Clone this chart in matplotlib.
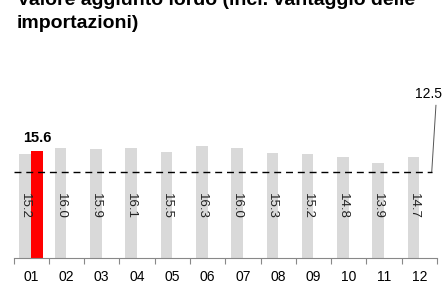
import matplotlib
matplotlib.use("Agg")
import matplotlib.pyplot as plt
import numpy as np

plt.rcParams['font.family'] = ['Liberation Sans', 'DejaVu Sans']

# Dati
mesi = ['01', '02', '03', '04', '05', '06', '07', '08', '09', '10', '11', '12']
valori = [15.2, 16.0, 15.9, 16.1, 15.5, 16.3, 16.0, 15.3, 15.2, 14.8, 13.9, 14.7]
valore_evidenziato = 15.6   # barra rossa accanto a 01
riferimento = 12.5          # linea tratteggiata

titolo = 'Valore aggiunto lordo (incl. vantaggio delle\nimportazioni)'

W, H = 443, 284
fig = plt.figure(figsize=(W / 100, H / 100), dpi=100)
ax = fig.add_axes([13.5 / W, (H - 258) / H, (437 - 13.5) / W, (258 - 80) / H])

x = np.arange(len(mesi))
w = 0.33
grigio = '#d9d9d9'

ax.bar(x - w / 2, valori, width=w, color=grigio, zorder=1)
ax.bar(x[0] + w / 2, valore_evidenziato, width=w, color='#ff0000', zorder=2)

# etichette verticali dentro le barre
for xi, v in zip(x, valori):
    ax.text(xi - w / 2, 7.6, f'{v:.1f}', rotation=270, ha='center', va='center',
            fontsize=9.5, color='#222222', zorder=3)

ax.text(x[0] + w / 2, valore_evidenziato + 0.9, f'{valore_evidenziato:.1f}',
        ha='center', va='bottom', fontsize=10.5, fontweight='bold')

# linea di riferimento
ax.plot([-0.5, 11.35], [riferimento, riferimento], color='black', lw=1,
        dashes=(5, 3.5), zorder=4)
ax.plot([11.35, 11.47], [riferimento, 22.3], color='#555555', lw=0.7)
ax.text(11.64, 23.0, f'{riferimento:.1f}', ha='right', va='bottom', fontsize=10,
        clip_on=False)

ax.set_xlim(-0.5, 11.5)
ax.set_ylim(0, 26)

for s in ['top', 'right', 'left']:
    ax.spines[s].set_visible(False)
ax.spines['bottom'].set_color('#888888')
ax.spines['bottom'].set_linewidth(0.8)

ax.set_yticks([])
ax.set_xticks(np.arange(-0.5, 12, 1), minor=False)
ax.set_xticklabels([])
ax.set_xticks(x, minor=True)
ax.set_xticklabels(mesi, minor=True)
ax.tick_params(axis='x', which='major', length=4, color='#888888', width=0.8)
ax.tick_params(axis='x', which='minor', length=0, pad=8.5, labelsize=10)

fig.text(17 / W, 1 - 32 / H, titolo, ha='left', va='bottom', fontsize=14,
         fontweight='bold', linespacing=1.45)

plt.savefig('out.png', dpi=100)
